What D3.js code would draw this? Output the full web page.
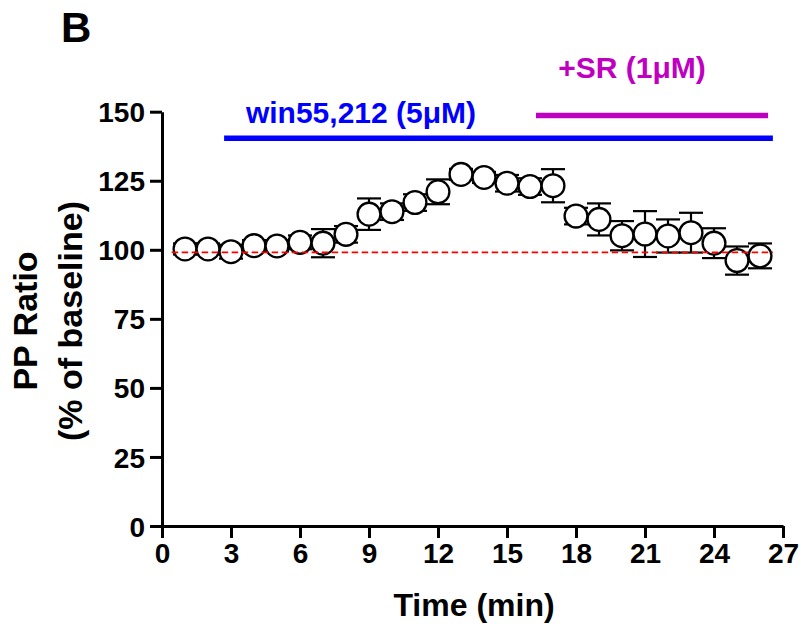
<!DOCTYPE html>
<html>
<head>
<meta charset="utf-8">
<script src="https://cdn.jsdelivr.net/npm/d3@7"></script>
<style>
  body { margin: 0; background: #fff; }
  svg text { font-family: "Liberation Sans", Arial, Helvetica, sans-serif; font-weight: bold; }
</style>
</head>
<body>
<div id="graph"></div>
<script>
// time points (min) with mean and SEM
let minutes = [1, 2, 3, 4, 5, 6, 7, 8, 9, 10, 11, 12, 13, 14, 15, 16, 17, 18, 19, 20, 21, 22, 23, 24, 25, 26];
let ratio = [100.3, 100.3, 99.3, 101.5, 101.4, 102.7, 102.4, 105.6, 112.9, 113.8, 117.1, 121.0, 127.3,
             126.2, 124.1, 122.9, 123.2, 112.2, 111.0, 105.1, 105.7, 105.0, 106.2, 102.4, 96.1, 97.8];
let sem = [2, 2, 2.5, 2, 2, 2.5, 5.1, 3, 5.7, 3, 3, 4.5, 2,
           2, 3, 3, 6.0, 3, 5.8, 5.3, 8.3, 6.0, 7.2, 5.4, 5.1, 4.5];

let xTicks = [0, 3, 6, 9, 12, 15, 18, 21, 24, 27];
let yTicks = [0, 25, 50, 75, 100, 125, 150];

let baselineLevel = 99.1;
let baselineSpan = [0.42, 26.56];

// drug application bars: [start, end] in minutes
let drugs = [
    {label: "win55,212 (5\u03bcM)", start: 2.7, end: 26.56, color: "#0000ff"},
    {label: "+SR (1\u03bcM)", start: 16.26, end: 26.35, color: "#c000c0"}
];

let width = 804, height = 629;
let svg = d3.select("#graph").append("svg")
    .attr("width", width)
    .attr("height", height);

let x_scale = d3.scaleLinear().domain([0, 27]).range([162, 783]);
let y_scale = d3.scaleLinear().domain([0, 150]).range([526, 111.7]);

// y axis
let yAxis = svg.append("g")
    .attr("transform", "translate(162,0)")
    .call(d3.axisLeft(y_scale).tickValues(yTicks).tickSize(12).tickPadding(5).tickSizeOuter(0));
// x axis
let xAxis = svg.append("g")
    .attr("transform", "translate(0,526)")
    .call(d3.axisBottom(x_scale).tickValues(xTicks).tickSize(12).tickPadding(5).tickSizeOuter(0));

[xAxis, yAxis].forEach(ax => {
    ax.select(".domain").attr("stroke", "#000").attr("stroke-width", 3);
    ax.selectAll(".tick line").attr("stroke", "#000").attr("stroke-width", 3);
    ax.selectAll(".tick text").attr("fill", "#000").style("font-size", "28px");
});
yAxis.selectAll(".tick text").attr("dy", "0.36em");
xAxis.selectAll(".tick text").attr("dy", "0.72em");

// error bars
let bars = svg.append("g")
    .attr("stroke", "#000")
    .attr("stroke-width", 2.2);

minutes.forEach((m, i) => {
    let cx = x_scale(m);
    let top = y_scale(ratio[i] + sem[i]);
    let bot = y_scale(ratio[i] - sem[i]);
    bars.append("line").attr("x1", cx).attr("x2", cx).attr("y1", top).attr("y2", bot);
    bars.append("line").attr("x1", cx - 12).attr("x2", cx + 12).attr("y1", top).attr("y2", top);
    bars.append("line").attr("x1", cx - 12).attr("x2", cx + 12).attr("y1", bot).attr("y2", bot);
});

// points
svg.append("g").selectAll("circle")
    .data(minutes)
    .enter().append("circle")
    .attr("cx", d => x_scale(d))
    .attr("cy", (d, i) => y_scale(ratio[i]))
    .attr("r", 11.4)
    .attr("fill", "#fff")
    .attr("stroke", "#000")
    .attr("stroke-width", 2.3);

// baseline reference
svg.append("line")
    .attr("x1", x_scale(baselineSpan[0]))
    .attr("x2", x_scale(baselineSpan[1]))
    .attr("y1", y_scale(baselineLevel))
    .attr("y2", y_scale(baselineLevel))
    .attr("stroke", "#ff0000")
    .attr("stroke-width", 1.8)
    .attr("stroke-dasharray", "6.5,3.5");

// drug bars and labels
let barY = [138.3, 115.5];
let labelY = [123, 78];
drugs.forEach((d, i) => {
    svg.append("line")
        .attr("x1", x_scale(d.start))
        .attr("x2", x_scale(d.end))
        .attr("y1", barY[i])
        .attr("y2", barY[i])
        .attr("stroke", d.color)
        .attr("stroke-width", 5.6);
});
svg.append("text")
    .attr("x", 361).attr("y", labelY[0])
    .attr("text-anchor", "middle")
    .attr("fill", drugs[0].color)
    .style("font-size", "30px")
    .text(drugs[0].label);
svg.append("text")
    .attr("x", 632).attr("y", labelY[1])
    .attr("text-anchor", "middle")
    .attr("fill", drugs[1].color)
    .style("font-size", "30px")
    .text(drugs[1].label);

// axis titles
svg.append("text")
    .attr("x", 474).attr("y", 616)
    .attr("text-anchor", "middle")
    .style("font-size", "32px")
    .text("Time (min)");

let yTitle = svg.append("text")
    .attr("transform", "translate(37,321) rotate(-90)")
    .attr("text-anchor", "middle")
    .style("font-size", "34px");
yTitle.append("tspan").attr("x", 0).attr("y", 0).text("PP Ratio");
yTitle.append("tspan").attr("x", 0).attr("y", 45).text("(% of baseline)");

// panel letter
svg.append("text")
    .attr("x", 61).attr("y", 42)
    .style("font-size", "42px")
    .text("B");
</script>
</body>
</html>
